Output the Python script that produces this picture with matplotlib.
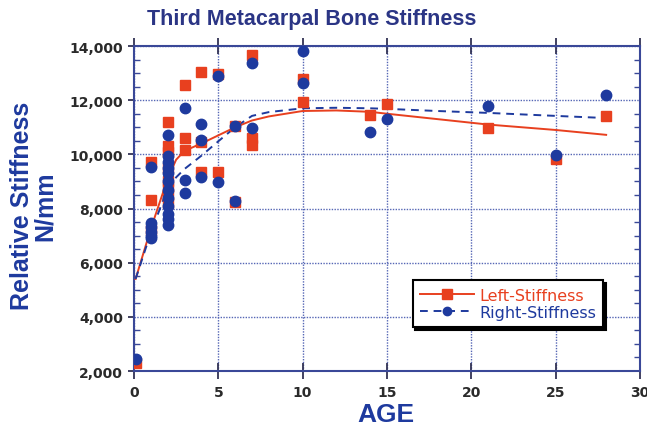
import matplotlib
matplotlib.use("Agg")
import matplotlib.pyplot as plt
from matplotlib.ticker import MultipleLocator, FuncFormatter

# ---- data ----
left_age = [0.1, 1, 1, 1,
            2, 2, 2, 2, 2, 2, 2, 2,
            3, 3, 3, 4, 4, 4, 5, 5, 6, 6, 7, 7, 7,
            10, 10, 14, 15, 21, 25, 28]
left_stiff = [2300, 9700, 8300, 7200,
              11200, 10300, 10100, 9500, 9000, 8800, 8500, 8200,
              12550, 10600, 10150, 13050, 10450, 9350, 12950, 9350, 11050, 8230, 13680, 10600, 10350,
              12800, 11950, 11450, 11850, 10980, 9820, 11420]

right_age = [0.1, 1, 1, 1, 1, 1, 1,
             2, 2, 2, 2, 2, 2, 2, 2, 2, 2, 2, 2,
             3, 3, 3, 4, 4, 4, 5, 5, 6, 6, 7, 7,
             10, 10, 14, 15, 21, 25, 28]
right_stiff = [2450, 9520, 7450, 7300, 7150, 7000, 6900,
               10720, 9950, 9700, 9500, 9300, 9000, 8700, 8400, 8100, 7800, 7600, 7400,
               11720, 9060, 8560, 11120, 10530, 9180, 12880, 8970, 11060, 8290, 13360, 10960,
               13800, 12620, 10820, 11310, 11800, 9990, 12200]

fit_age = [0.1, 1, 2, 2.5, 3, 4, 5, 6, 7, 8, 10, 12, 14, 15, 18, 21, 25, 28]
left_fit = [5400, 7250, 9100, 9800, 10130, 10400, 10700, 11000, 11250, 11400, 11600, 11620, 11570,
            11500, 11300, 11100, 10900, 10720]
right_fit = [5400, 7100, 8750, 9150, 9460, 9950, 10480, 11000, 11420, 11560, 11700, 11720, 11700,
             11680, 11600, 11530, 11420, 11340]

x_ticks = [0, 5, 10, 15, 20, 25, 30]
y_ticks = [2000, 4000, 6000, 8000, 10000, 12000, 14000]

RED = "#E8401F"
BLUE = "#1E3A9E"
NAVY = "#2B3585"
GRID = "#5566B5"
SPINE = "#3A4898"

fig = plt.figure(figsize=(6.47, 4.27), dpi=100)
fig.patch.set_facecolor("white")
ax = fig.add_axes([0.207, 0.1288, 0.782, 0.7611])

ax.plot(fit_age, left_fit, color=RED, lw=1.4, zorder=3)
ax.plot(fit_age, right_fit, color=BLUE, lw=1.4, ls=(0, (4, 3)), zorder=3)
ax.plot(left_age, left_stiff, ls="none", marker="s", ms=7.5, color=RED, mec=RED, zorder=4)
ax.plot(right_age, right_stiff, ls="none", marker="o", ms=7.5, color=BLUE, mec=BLUE, zorder=5)

# legend handles
h1, = ax.plot([], [], color=RED, lw=1.4, marker="s", ms=7, label="Left-Stiffness")
h2, = ax.plot([], [], color=BLUE, lw=1.4, ls=(0, (4, 3)), marker="o", ms=6, label="Right-Stiffness")

ax.set_xlim(0, 30)
ax.set_ylim(2000, 14000)
ax.set_xticks(x_ticks)
ax.set_yticks(y_ticks)
ax.yaxis.set_minor_locator(MultipleLocator(500))
ax.yaxis.set_major_formatter(FuncFormatter(lambda v, p: f"{int(v):,}"))

ax.grid(True, which="major", color=GRID, ls=(0, (1, 1)), lw=1.0, zorder=1)
for s in ax.spines.values():
    s.set_color(SPINE)
    s.set_linewidth(1.5)

ax.tick_params(axis="x", which="major", direction="inout", length=12, width=1.3, color="#333355",
               top=True, pad=4, labelsize=10, labelcolor="#2a2a2a")
ax.tick_params(axis="y", which="major", direction="out", length=4, width=1.3, color="#333355",
               pad=4, labelsize=10, labelcolor="#2a2a2a")
ax.tick_params(axis="y", which="minor", direction="in", length=4, width=1.0, color=SPINE, right=True)
for lab in ax.get_xticklabels() + ax.get_yticklabels():
    lab.set_fontweight("bold")
    lab.set_family("DejaVu Sans")

leg = ax.legend(handles=[h1, h2], loc="lower left", bbox_to_anchor=(0.551, 0.135), borderaxespad=0,
                frameon=True, fancybox=False, edgecolor="black", framealpha=1,
                shadow={"color": "black", "alpha": 1}, handlelength=3.4, handletextpad=0.3,
                borderpad=0.45, labelspacing=0.15, prop={"family": "DejaVu Sans", "size": 11.5})
leg.get_frame().set_linewidth(1.5)
leg.get_texts()[0].set_color(RED)
leg.get_texts()[1].set_color(BLUE)

fig.text(0.482, 0.955, "Third Metacarpal Bone Stiffness", ha="center", va="center",
         fontsize=15.5, fontweight="bold", color=NAVY, family="Liberation Sans")
fig.text(0.052, 0.517, "Relative Stiffness\nN/mm", ha="center", va="center", rotation=90,
         multialignment="center", fontsize=18, fontweight="bold", color=BLUE,
         family="Liberation Sans", linespacing=0.95)
fig.text(0.597, 0.029, "AGE", ha="center", va="center", fontsize=19, fontweight="bold",
         color=BLUE, family="Liberation Sans")

fig.savefig("out.png", dpi=100)
